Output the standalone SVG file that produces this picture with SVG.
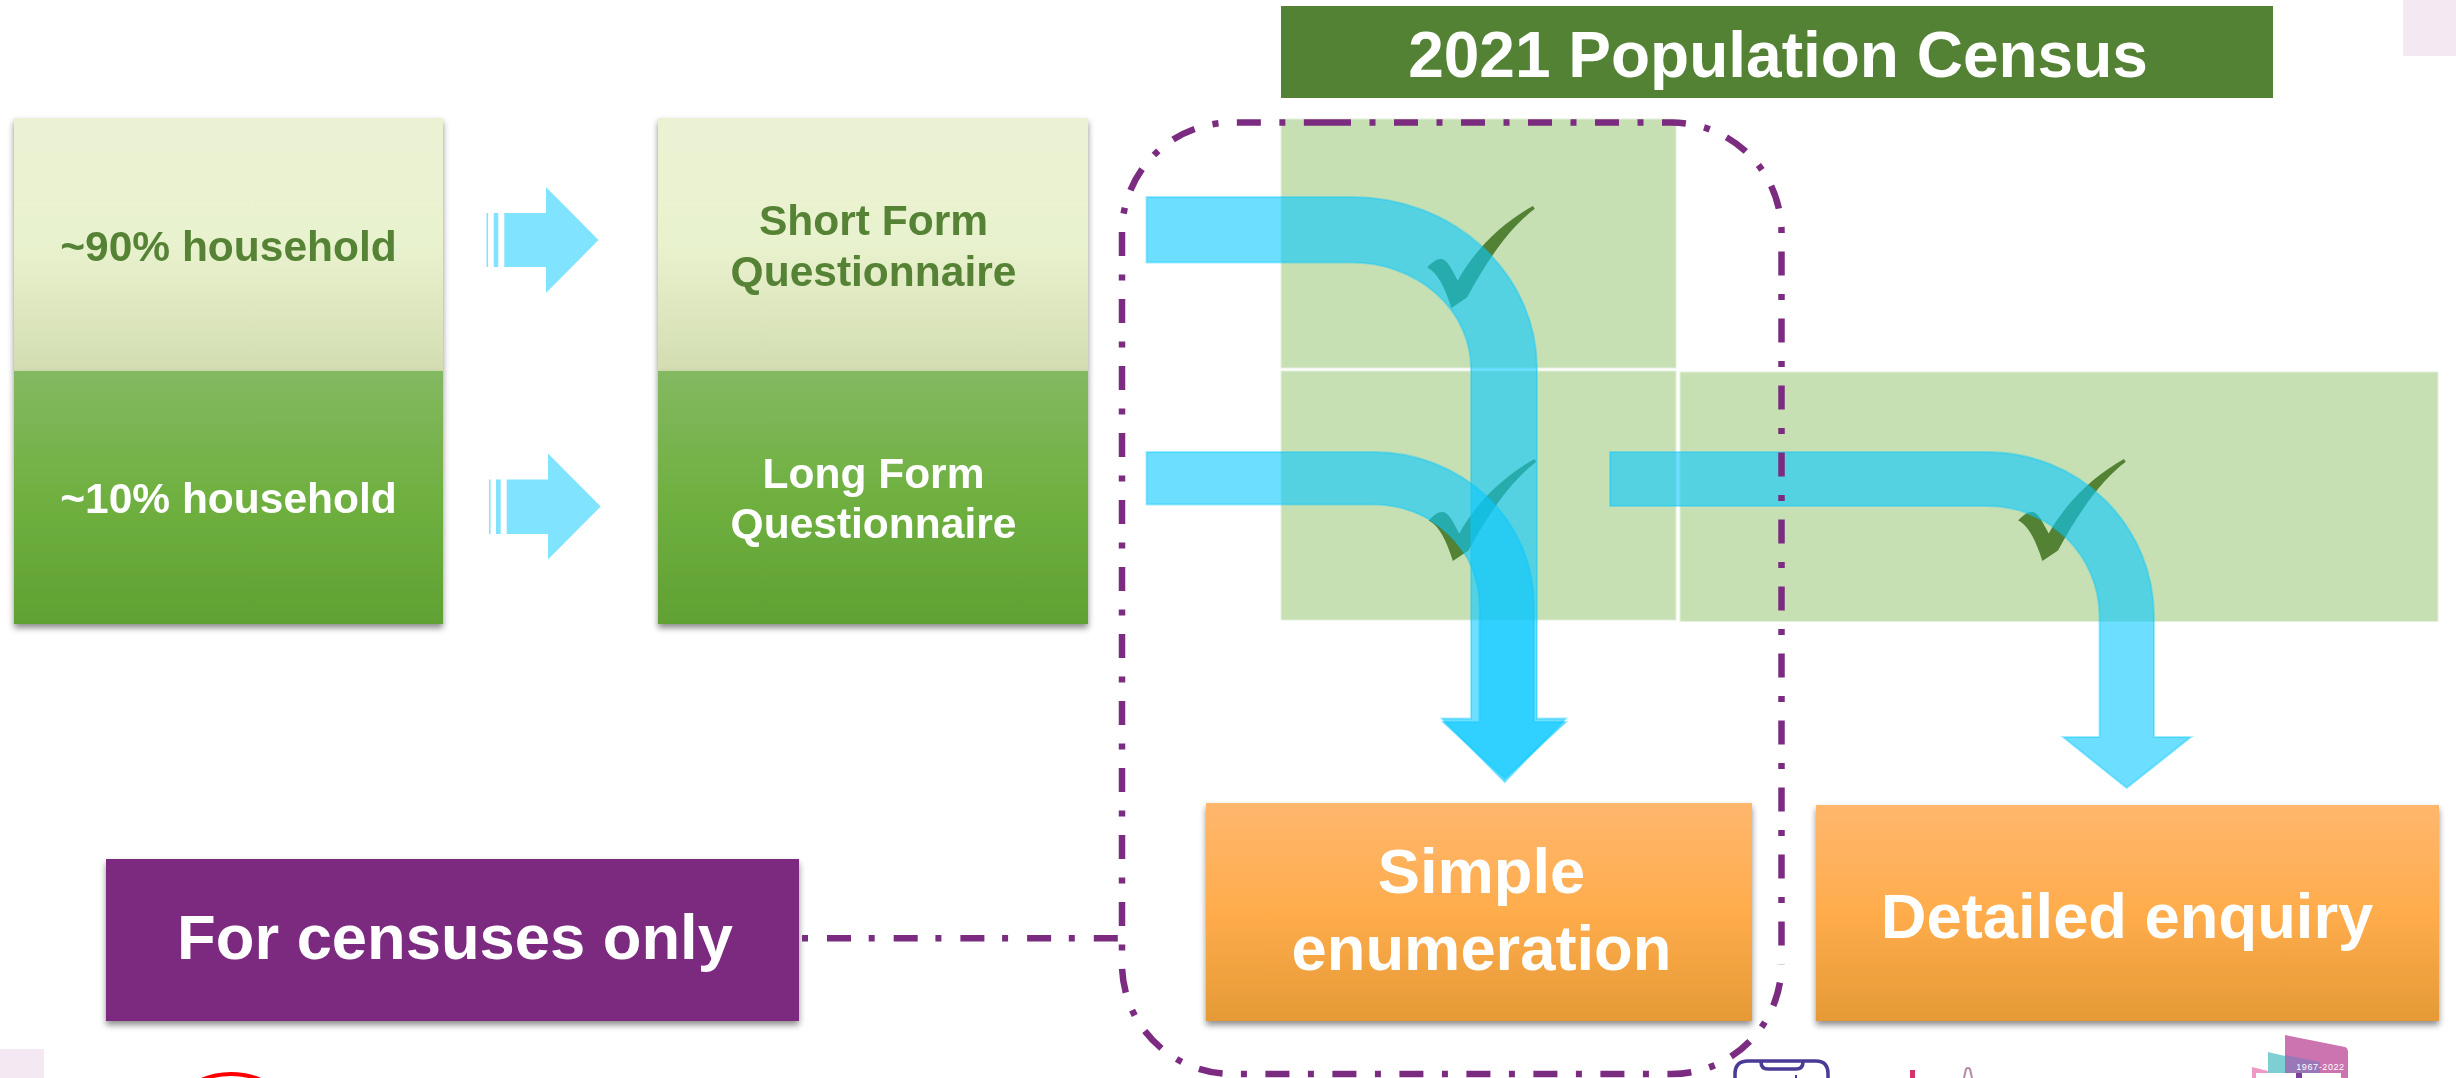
<svg xmlns="http://www.w3.org/2000/svg" xmlns:xlink="http://www.w3.org/1999/xlink" width="2456" height="1078" viewBox="0 0 2456 1078">
<style>
text{font-family:"Liberation Sans",Arial,sans-serif;font-weight:700;text-anchor:middle}
.s42{font-size:42.500px}.s64{font-size:64px}.s63{font-size:63.300px}
.w{fill:#fff}.g{fill:#548235}
.cell{fill:#C6E0B4;stroke:#E4EFDC;stroke-width:1}
.flow{fill:#0AC8FF;fill-opacity:.6;stroke:#00C6FF;stroke-opacity:.35;stroke-width:2}
.fat{fill:#80E3FF}
.dd{fill:none;stroke:#7B2C80;stroke-width:6.5}
</style>
<defs>
<linearGradient id="lg" x1="0" y1="0" x2="0" y2="1"><stop offset="0" stop-color="#EBF2D4"/><stop offset=".5" stop-color="#E9F2CE"/><stop offset="1" stop-color="#D3DDB1"/></linearGradient>
<linearGradient id="dg" x1="0" y1="0" x2="0" y2="1"><stop offset="0" stop-color="#83B961"/><stop offset=".5" stop-color="#6FB040"/><stop offset="1" stop-color="#60A133"/></linearGradient>
<linearGradient id="og" x1="0" y1="0" x2="0" y2="1"><stop offset="0" stop-color="#FFB76D"/><stop offset=".5" stop-color="#FFAC4C"/><stop offset="1" stop-color="#E59A36"/></linearGradient>
<filter id="sh" x="-5%" y="-5%" width="110%" height="115%"><feDropShadow dx="0" dy="4" stdDeviation="3" flood-color="#000" flood-opacity=".45"/></filter>
<path id="tick" d="M1534.800 208.800C1512 226 1490 255 1467 297.400L1451.400 308C1445 288 1438 273 1427.200 267.600C1433 261 1438 258 1442.700 259.300C1448 261 1452 270 1457.700 280.400C1478 245 1505 222 1532.900 206Z"/>
</defs>
<rect id="corner-top" x="2403" y="0" width="53" height="56" fill="#F4E8F2"/>
<rect id="corner-bottom" x="0" y="1049" width="44" height="29" fill="#F4E8F2"/>
<circle id="logo-red" cx="231" cy="1148" r="74" fill="none" stroke="#F00" stroke-width="4"/>
<g id="logo-phone" fill="none" stroke="#4B3A96" stroke-width="3.500"><path d="M1735 1080V1074Q1735 1061 1748 1061H1816Q1828 1061 1828 1074V1080"/><path d="M1761 1062Q1761 1069 1768 1069H1796Q1803 1069 1803 1062"/><path d="M1796 1075V1080" stroke-width="2"/></g>
<g id="logo-chart"><rect x="1910" y="1070" width="5" height="8" fill="#D6336C"/><path d="M1964 1078L1966 1069Q1968 1067 1970 1069L1972 1078" fill="none" stroke="#B58AA8" stroke-width="2"/></g>
<g id="logo-anniversary">
<path d="M2252 1078V1067L2272 1072V1078Z" fill="#EE9AC5"/>
<path d="M2268 1078V1052L2285 1056V1078Z" fill="#7DCFD3"/>
<path d="M2285 1035L2345 1047Q2348 1048 2348 1052V1078H2285Z" fill="#CB74B0"/>
<path d="M2285 1055L2320 1062V1078H2285Z" fill="#9A78B8"/>
<rect x="2256" y="1073" width="40" height="5" fill="#fff"/>
<rect x="2302" y="1073" width="39" height="5" fill="#fff"/>
<rect x="2296" y="1073" width="6" height="5" fill="#7B3FA0"/>
<text x="2320.500" y="1070" fill="#fff" style="font-size:9px;font-weight:400;letter-spacing:.6px">1967-2022</text>
</g>
<g id="node-90-household" filter="url(#sh)"><rect x="14" y="118" width="429" height="253" fill="url(#lg)"/><text class="s42 g" x="228.500" y="261">~90% household</text></g>
<g id="node-short-form" filter="url(#sh)"><rect x="658" y="118" width="430" height="253" fill="url(#lg)"/><text class="s42 g" x="873.500" y="235">Short Form</text><text class="s42 g" x="873.500" y="285.500">Questionnaire</text></g>
<g id="node-10-household" filter="url(#sh)"><rect x="14" y="371" width="429" height="253" fill="url(#dg)"/><text class="s42 w" x="228.500" y="512.500">~10% household</text></g>
<g id="node-long-form" filter="url(#sh)"><rect x="658" y="371" width="430" height="253" fill="url(#dg)"/><text class="s42 w" x="873.500" y="487.500">Long Form</text><text class="s42 w" x="873.500" y="538">Questionnaire</text></g>
<g id="node-title"><rect x="1281" y="6" width="992" height="92" fill="#548235"/><text class="s64 w" x="1778" y="77">2021 Population Census</text></g>
<g id="cells">
<rect class="cell" x="1281" y="119" width="395" height="249"/>
<rect class="cell" x="1281" y="371" width="395" height="249"/>
<rect class="cell" x="1680" y="372" width="758" height="249.500"/>
</g>
<g id="ticks" class="g">
<use xlink:href="#tick" href="#tick"/>
<use xlink:href="#tick" href="#tick" transform="translate(1.500 253)"/>
<use xlink:href="#tick" href="#tick" transform="translate(591 253)"/>
</g>
<g id="node-simple" filter="url(#sh)"><rect x="1206" y="803" width="546" height="218" fill="url(#og)"/><text class="s63 w" x="1481.500" y="893">Simple</text><text class="s63 w" x="1481.500" y="970">enumeration</text></g>
<g id="node-detailed" filter="url(#sh)"><rect x="1816" y="805" width="623" height="216" fill="url(#og)"/><text class="s63 w" x="2127" y="938">Detailed enquiry</text></g>
<g id="node-censuses" filter="url(#sh)"><rect x="106" y="859" width="693" height="162" fill="#7B2C80"/><text class="s63 w" x="455" y="959">For censuses only</text></g>
<g id="connectors">
<g class="fat">
<path d="M546 187L598.500 240L546 293V267H504.300V213H546Z"/><rect x="486.500" y="213" width="1.500" height="54"/><rect x="493.700" y="213" width="4.600" height="54"/>
<path d="M548 453.500L600.700 506.500L548 559.500V534H506.700V479.500H548Z"/><rect x="489" y="479.500" width="1.500" height="54.500"/><rect x="496" y="479.500" width="4.700" height="54.500"/>
</g>
<path class="flow" d="M1146.500 197H1352A185 171.500 0 0 1 1537 368.500V718.500H1566L1504.700 782L1441.700 718.500H1471V368.500A119 106 0 0 0 1352 262.500H1146.500Z"/>
<path class="flow" d="M1146.500 452H1374A160 153 0 0 1 1534 605V722H1566L1504.700 778.500L1443 722H1479.500V605A105.500 100.500 0 0 0 1374 504.500H1146.500Z"/>
<path class="flow" d="M1610 452H1987.500A166.500 164.500 0 0 1 2154 616.500V737H2191L2126.700 788L2063 737H2099.500V616.500A112 110.500 0 0 0 1987.500 506H1610Z"/>
<path class="dd" stroke-dasharray="24 18.500 6 18.500" d="M1327 122.500H1671.500A110 110 0 0 1 1781.500 232.500V964"/>
<path class="dd" stroke-dasharray="24 18.500 6 18.500" stroke-dashoffset="48.300" d="M1781.500 964A110 110 0 0 1 1671.500 1074H1232A110 110 0 0 1 1122 964V232.500A110 110 0 0 1 1232 122.500H1327"/>
<path class="dd" stroke-dasharray="6 19 24 17.700" d="M802 938.300H1119" stroke-width="6"/>
</g>
</svg>
